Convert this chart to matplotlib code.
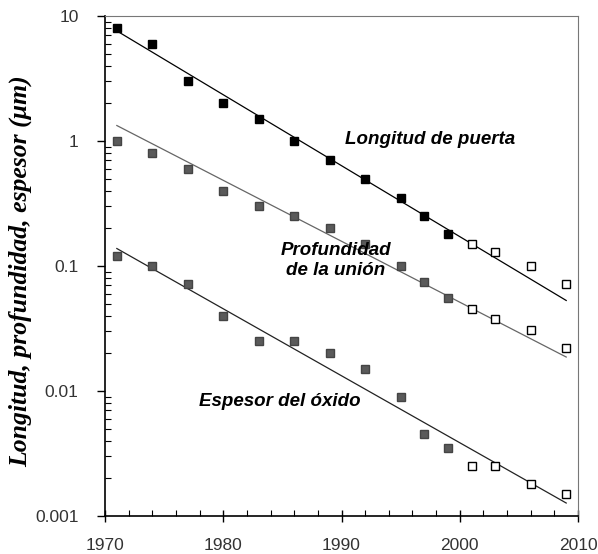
import matplotlib.pyplot as plt
from matplotlib.ticker import FixedLocator, LogLocator, NullFormatter

# years of the data points
years = [1971, 1974, 1977, 1980, 1983, 1986, 1989, 1992, 1995, 1997, 1999]
years_proj = [2001, 2003, 2006, 2009]

# gate length (um)
longitud = [8, 6, 3, 2, 1.5, 1.0, 0.7, 0.5, 0.35, 0.25, 0.18]
longitud_proj = [0.15, 0.13, 0.1, 0.072]

# junction depth (um)
profundidad = [1.0, 0.8, 0.6, 0.4, 0.3, 0.25, 0.2, 0.15, 0.1, 0.075, 0.055]
profundidad_proj = [0.045, 0.038, 0.031, 0.022]

# oxide thickness (um)
espesor = [0.12, 0.1, 0.072, 0.04, 0.025, 0.025, 0.02, 0.015, 0.009, 0.0045, 0.0035]
espesor_proj = [0.0025, 0.0025, 0.0018, 0.0015]

# trend lines (start / end values)
trend_years = [1971, 2009]
trend_longitud = [7.6, 0.053]
trend_profundidad = [1.33, 0.0187]
trend_espesor = [0.138, 0.00127]

fig = plt.figure(figsize=(5.98, 5.54), dpi=100)
ax = fig.add_axes([0.1756, 0.0686, 0.791, 0.9025])
ax.set_yscale("log")

ax.plot(trend_years, trend_longitud, color="black", lw=0.9)
ax.plot(trend_years, trend_profundidad, color="#666666", lw=0.9)
ax.plot(trend_years, trend_espesor, color="#222222", lw=0.9)

ms = 5.6
ax.plot(years, longitud, "s", color="black", ms=ms, mec="black")
ax.plot(years, profundidad, "s", color="#5a5a5a", ms=ms, mec="#444444")
ax.plot(years, espesor, "s", color="#5a5a5a", ms=ms, mec="#444444")
for proj in [longitud_proj, profundidad_proj, espesor_proj]:
    ax.plot(years_proj, proj, "s", mfc="white", mec="black", ms=5.2, mew=1.0)

ax.set_xlim(1970, 2010)
ax.set_ylim(0.001, 10)
ax.xaxis.set_major_locator(FixedLocator([1970, 1980, 1990, 2000, 2010]))
ax.xaxis.set_minor_locator(FixedLocator(range(1970, 2011, 2)))
ax.yaxis.set_major_locator(FixedLocator([0.001, 0.01, 0.1, 1, 10]))
ax.yaxis.set_minor_locator(LogLocator(base=10, subs=range(2, 10)))
ax.yaxis.set_minor_formatter(NullFormatter())
ax.set_yticklabels(["0.001", "0.01", "0.1", "1", "10"])
ax.tick_params(which="major", direction="inout", length=8, width=1, labelsize=12.5)
ax.tick_params(which="minor", direction="in", length=4, width=0.8)
ax.tick_params(axis="x", which="major", pad=12)
ax.tick_params(axis="y", which="major", direction="out", length=6, pad=13)
for lab in ax.get_xticklabels() + ax.get_yticklabels():
    lab.set_family("Liberation Sans")
    lab.set_color("#333333")

ax.spines["top"].set_color("#777777")
ax.spines["right"].set_color("#777777")
ax.spines["left"].set_linewidth(1.2)
ax.spines["bottom"].set_linewidth(1.2)

ax.set_ylabel("Longitud, profundidad, espesor (μm)", family="Liberation Serif",
              fontsize=18.5, fontweight="bold", style="italic", va="center")
ax.yaxis.set_label_coords(-0.178, 0.49)

txt = dict(family="Liberation Sans", fontsize=13.5, fontweight="bold", style="italic",
           ha="center", va="center")
ax.text(1997.5, 1.02, "Longitud de puerta", **txt)
ax.text(1989.5, 0.11, "Profundidad\nde la unión", linespacing=1.25, **txt)
ax.text(1984.8, 0.0082, "Espesor del óxido", **txt)

fig.savefig("out.png", dpi=100)
